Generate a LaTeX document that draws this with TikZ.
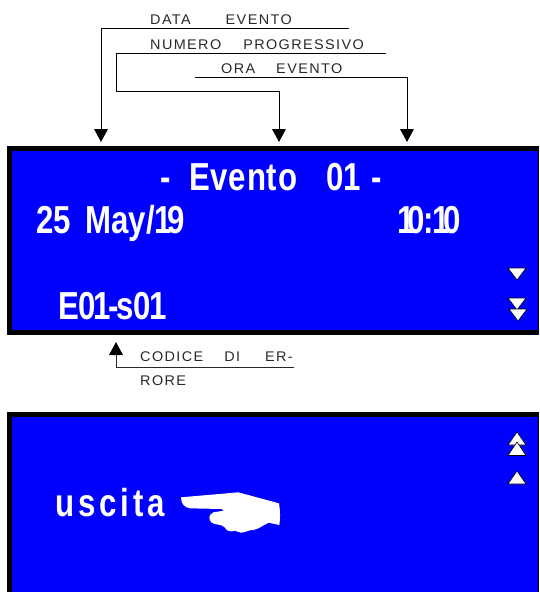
\documentclass[tikz,border=0pt]{standalone}
\usepackage{fontspec}
\setmainfont{Liberation Sans}
\newfontfamily\lcdfont[FakeStretch=0.8,BoldFont={Liberation Sans Bold}]{Liberation Sans}
\newfontfamily\capfont[LetterSpace=10,FakeStretch=1.03]{Liberation Sans}
\definecolor{lcdblue}{RGB}{0,0,255}
\definecolor{inkgray}{RGB}{40,40,40}
\tikzset{
  lcdpanel/.style={fill=black},
  lcdface/.style={fill=lcdblue},
  lcdtext/.style={anchor=base west,inner sep=0pt,text=white,font=\lcdfont\bfseries\fontsize{39}{39}\selectfont},
  caption/.style={anchor=base west,inner sep=0pt,text=inkgray,font=\capfont\fontsize{14}{14}\selectfont},
  leader/.style={draw=black,line width=1pt},
  softleader/.style={draw=inkgray,line width=1pt},
  tipshape/.style={fill=black},
  softkey/.style={fill=white,draw=black,line width=.6pt,line join=round},
  hand/.style={fill=white}
}
\begin{document}
\begin{tikzpicture}[x=1pt,y=-1pt]
\useasboundingbox (0,0) rectangle (539,592);
% panels
\path[lcdpanel] (7,146) rectangle (539,335);
\path[lcdface] (12,151) rectangle (538,330);
\path[lcdpanel] (7,412) rectangle (539,592);
\path[lcdface] (12,417) rectangle (538,592);
% captions
\node[caption] (cdata) at (150,24) {DATA\hspace{35pt}EVENTO};
\node[caption] (cnum) at (150,49) {NUMERO\hspace{22pt}PROGRESSIVO};
\node[caption] (cora) at (221,73) {ORA\hspace{21pt}EVENTO};
\node[caption] (ccod) at (140,361) {CODICE\hspace{21pt}DI\hspace{25pt}ER-};
\node[caption] (crore) at (140,385) {RORE};
% connector points
\coordinate (d0) at (349,28.5);
\coordinate (d1) at (101,28.5);
\coordinate (d2) at (101,129);
\coordinate (n0) at (386,53);
\coordinate (n1) at (116,53);
\coordinate (n2) at (116,91.5);
\coordinate (n3) at (279,91.5);
\coordinate (n4) at (279,129);
\coordinate (o0) at (195,77);
\coordinate (o1) at (407,77);
\coordinate (o2) at (407,129);
\coordinate (c0) at (294,367);
\coordinate (c1) at (116,367);
\coordinate (c2) at (116,355);
\draw[leader] (d0) -- (d1) -- (d2);
\draw[leader] (n0) -- (n1) -- (n2) -- (n3) -- (n4);
\draw[leader] (o0) -- (o1) -- (o2);
\draw[softleader] (c0) -- (c1) -- (c2);
\path[tipshape] ([xshift=-7pt]d2) -- ([xshift=7pt]d2) -- ([yshift=-13pt]d2) -- cycle;
\path[tipshape] ([xshift=-7pt]n4) -- ([xshift=7pt]n4) -- ([yshift=-13pt]n4) -- cycle;
\path[tipshape] ([xshift=-7pt]o2) -- ([xshift=7pt]o2) -- ([yshift=-13pt]o2) -- cycle;
\path[tipshape] ([xshift=-7pt]c2) -- ([xshift=7pt]c2) -- ([yshift=13pt]c2) -- cycle;
% display text
\node[lcdtext] (dash1) at (160,190) {-};
\node[lcdtext] (evento) at (189,190) {\addfontfeature{LetterSpace=2}Evento};
\node[lcdtext] (num) at (326,190) {01};
\node[lcdtext] (dash2) at (371,190) {-};
\node[lcdtext] (date) at (36,233) {25\kern6pt{} May/1\kern-5pt 9};
\node[lcdtext] (time) at (397,233) {1\kern-7pt 0\kern-1.5pt:\kern-1pt 1\kern-7pt 0};
\node[lcdtext] (code) at (58,319) {E\kern-1pt 0\kern-1.5pt 1\kern-3pt-\kern-2pt s0\kern-1.5pt 1};
\node[lcdtext] (exit) at (55,516) {\addfontfeature{LetterSpace=10}uscita};
% soft keys
\path[softkey] (508,268) -- (526,268) -- (517,280) -- cycle;
\path[softkey] (508,298) -- (526,298) -- (517,310) -- cycle;
\path[softkey] (509,309) -- (527,309) -- (518,321) -- cycle;
\path[softkey] (508,445) -- (526,445) -- (517,432) -- cycle;
\path[softkey] (508,455.5) -- (526,455.5) -- (517,442) -- cycle;
\path[softkey] (508,484) -- (526,484) -- (517,471) -- cycle;
% pointing hand
\begin{scope}[shift={(170,480)},x=0.3333pt,y=-0.3333pt]
\path[hand] (33,52) -- (205,37) -- (327,70) .. controls (331,95) and (331,115) .. (328,135)
  -- (296,128) .. controls (280,135) and (265,148) .. (250,150)
  .. controls (238,148) and (228,158) .. (213,158) .. controls (205,158) and (200,152) .. (195,152)
  .. controls (185,156) and (170,155) .. (164,142) .. controls (155,132) and (135,135) .. (125,128)
  .. controls (115,118) and (115,105) .. (130,97) -- (162,92) -- (155,87) -- (60,85)
  .. controls (42,82) and (33,70) .. (33,52) -- cycle;
\end{scope}
\end{tikzpicture}
\end{document}
